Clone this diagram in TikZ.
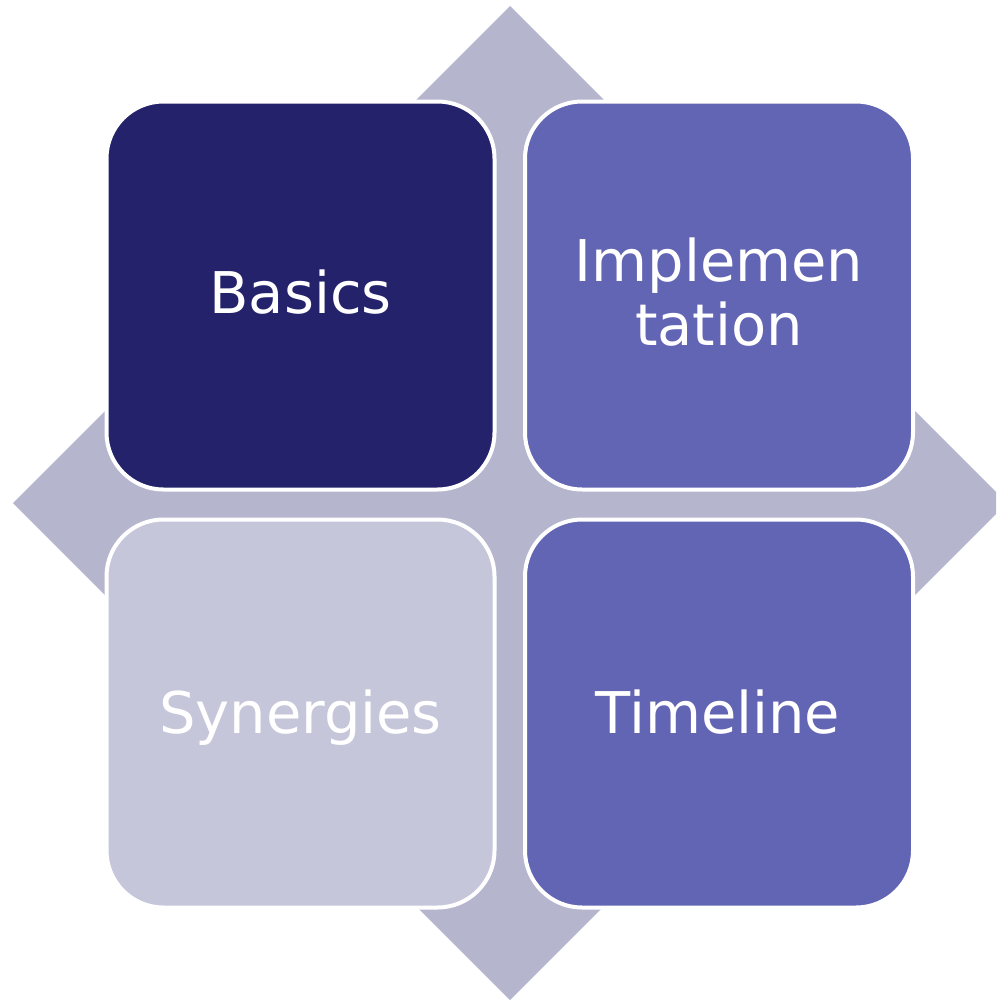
\documentclass[tikz,border=0pt]{standalone}
\usepackage{fontspec}
\setmainfont{DejaVu Sans}
\definecolor{diamondc}{HTML}{B5B5CE}
\definecolor{navyc}{HTML}{23226B}
\definecolor{violetc}{HTML}{6264B4}
\definecolor{palec}{HTML}{C5C6DA}
\tikzset{
  tile/.style={draw=white, line width=4pt, rounded corners=57pt,
    minimum width=388pt, minimum height=388pt, inner sep=0pt, outer sep=0pt},
  lbl/.style={text=white, font=\fontsize{57.5}{64}\selectfont, align=center, inner sep=0pt, anchor=base}
}
\begin{document}
\begin{tikzpicture}[x=1pt,y=-1pt]
\useasboundingbox (0,0) rectangle (996,1001);
\clip (0,0) rectangle (996,1001);
\fill[diamondc] (510,6) -- (1007,503) -- (510,1000) -- (13,503) -- cycle;
\node[tile, fill=navyc]   (basics) at (300.5,295.5) {};
\node[tile, fill=violetc] (impl)   at (719,295.5) {};
\node[tile, fill=palec]   (syn)    at (300.5,713.5) {};
\node[tile, fill=violetc] (time)   at (719,713.5) {};
\node[lbl] (tbasics) at (300.5,313) {Basics};
\node[lbl, anchor=center] (timpl) at (719,292.5) {Implemen\\tation};
\node[lbl] (tsyn) at (300.5,733) {Synergies};
\node[lbl] (ttime) at (718,733) {Timeline};
\end{tikzpicture}
\end{document}
